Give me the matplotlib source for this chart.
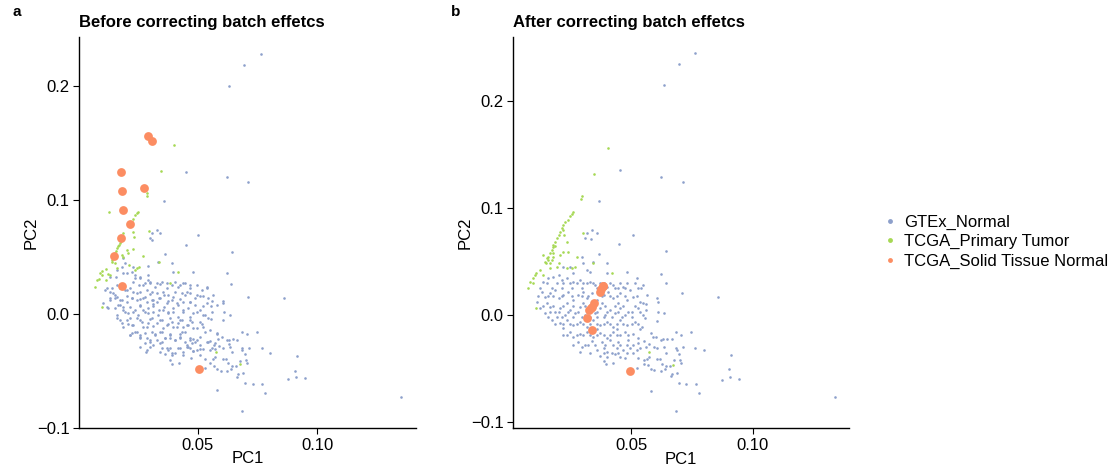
import numpy as np
import matplotlib
matplotlib.use("Agg")
import matplotlib.pyplot as plt
from matplotlib.lines import Line2D

plt.rcParams['font.family'] = ['Liberation Sans', 'DejaVu Sans']

# ---- panel a: before correction (PC1, PC2) ----
a_gtex = [
    (0.0763, 0.228), (0.0695, 0.2187), (0.063, 0.2), (0.045, 0.1243), (0.0621, 0.1199),
    (0.071, 0.1158), (0.0359, 0.0991),
    (0.0328, 0.0737), (0.0342, 0.0714), (0.0307, 0.0708), (0.0502, 0.0693), (0.0300, 0.0664),
    (0.0307, 0.0649), (0.0451, 0.0605), (0.0363, 0.0524), (0.0391, 0.0450), (0.0335, 0.0459),
    (0.0293, 0.0421), (0.0479, 0.0371), (0.0395, 0.0371), (0.0189, 0.0488), (0.0196, 0.0444),
    (0.0182, 0.0415), (0.0161, 0.0386), (0.0189, 0.0357), (0.0203, 0.0357), (0.0231, 0.0415),
    (0.0224, 0.0371), (0.0238, 0.0342), (0.0259, 0.0328), (0.0293, 0.0342), (0.0133, 0.0328),
    (0.0158, 0.0328),
    (0.0259, 0.0313), (0.0293, 0.0298), (0.0300, 0.0275), (0.0328, 0.0269), (0.0349, 0.0284),
    (0.0370, 0.0269), (0.0405, 0.0284), (0.0426, 0.0254), (0.0447, 0.0269), (0.0468, 0.0254),
    (0.0537, 0.0225), (0.0119, 0.0225), (0.0231, 0.0284), (0.0273, 0.0254),
    (0.0112, 0.0211), (0.0133, 0.0196), (0.0147, 0.0181), (0.0175, 0.0225), (0.0203, 0.0211),
    (0.0231, 0.0196), (0.0259, 0.0196), (0.0287, 0.0211), (0.0307, 0.0196), (0.0328, 0.0181),
    (0.0356, 0.0196), (0.0377, 0.0167), (0.0405, 0.0196), (0.0433, 0.0187), (0.0454, 0.0196),
    (0.0468, 0.0181), (0.0496, 0.0167), (0.0523, 0.0158), (0.0544, 0.0137), (0.0161, 0.0152),
    (0.0105, 0.0094), (0.0133, 0.0123), (0.0154, 0.0137), (0.0182, 0.0123), (0.0203, 0.0108),
    (0.0224, 0.0137), (0.0245, 0.0123), (0.0273, 0.0137), (0.0287, 0.0108), (0.0307, 0.0123),
    (0.0328, 0.0108), (0.0342, 0.0137), (0.0370, 0.0094), (0.0391, 0.0123), (0.0412, 0.0094),
    (0.0440, 0.0108), (0.0468, 0.0108), (0.0489, 0.0079), (0.0523, 0.0070), (0.0126, 0.0050),
    (0.0168, 0.0079), (0.0189, 0.0064), (0.0259, 0.0070), (0.0314, 0.0070),
    (0.0161, -0.0009), (0.0189, 0.0035), (0.0210, 0.0006), (0.0231, 0.0021), (0.0252, -0.0009),
    (0.0273, 0.0035), (0.0293, 0.0006), (0.0314, 0.0021), (0.0335, -0.0009), (0.0356, 0.0035),
    (0.0377, 0.0006), (0.0398, 0.0021), (0.0419, -0.0023), (0.0440, 0.0035), (0.0468, -0.0023),
    (0.0496, 0.0021), (0.0523, -0.0009), (0.0175, -0.0053), (0.0217, -0.0038), (0.0259, -0.0053),
    (0.0300, -0.0047), (0.0342, -0.0053), (0.0384, -0.0038), (0.0426, -0.0053), (0.0468, -0.0053),
    (0.0509, -0.0067), (0.0544, -0.0038),
    (0.0189, -0.0111), (0.0231, -0.0096), (0.0273, -0.0111), (0.0314, -0.0105), (0.0356, -0.0126),
    (0.0398, -0.0111), (0.0440, -0.0111), (0.0482, -0.0126), (0.0523, -0.0111), (0.0210, -0.0088),
    (0.0293, -0.0083), (0.0377, -0.0088), (0.0419, -0.0083), (0.0461, -0.0096),
    (0.0645, 0.0541), (0.0621, 0.0357), (0.0641, 0.026), (0.0563, 0.0167), (0.0712, 0.0152),
    (0.0862, 0.0143), (0.0604, 0.0114), (0.0607, 0.0099), (0.0556, 0.0073), (0.0558, 0.002),
    (0.061, 0.002), (0.0635, -0.0006), (0.0554, -0.0047), (0.0604, -0.0049),
    (0.0245, -0.0155), (0.0307, -0.0155), (0.0349, -0.0155), (0.0433, -0.0155), (0.0530, -0.0155),
    (0.0224, -0.0170), (0.0259, -0.0184), (0.0321, -0.0178), (0.0384, -0.0184), (0.0426, -0.0178),
    (0.0217, -0.0184), (0.0259, -0.0214), (0.0287, -0.0214), (0.0300, -0.0243), (0.0328, -0.0228),
    (0.0349, -0.0243), (0.0363, -0.0214), (0.0384, -0.0208), (0.0405, -0.0228), (0.0426, -0.0214),
    (0.0447, -0.0243), (0.0468, -0.0228), (0.0482, -0.0220), (0.0496, -0.0228), (0.0544, -0.0243),
    (0.0280, -0.0257), (0.0342, -0.0257), (0.0454, -0.0272), (0.0475, -0.0257), (0.0509, -0.0272),
    (0.0300, -0.0287), (0.0349, -0.0301), (0.0377, -0.0316), (0.0384, -0.0301), (0.0426, -0.0301),
    (0.0454, -0.0287), (0.0468, -0.0301), (0.0496, -0.0316), (0.0523, -0.0307), (0.0284, -0.0336),
    (0.0363, -0.0354), (0.0391, -0.0360), (0.0405, -0.0345), (0.0440, -0.0360), (0.0482, -0.0325),
    (0.0384, -0.0404), (0.0391, -0.0442), (0.0423, -0.0433), (0.0470, -0.0389), (0.0509, -0.0360),
    (0.0530, -0.0398), (0.0530, -0.0477),
    (0.0579, -0.0178), (0.0600, -0.0199), (0.0586, -0.0219), (0.0551, -0.0237), (0.0572, -0.0257),
    (0.0558, -0.0301), (0.0574, -0.0307), (0.0590, -0.0281), (0.0604, -0.0295), (0.0621, -0.0228),
    (0.0632, -0.0228), (0.0646, -0.0222), (0.0663, -0.0228), (0.0631, -0.0266), (0.0635, -0.0287),
    (0.0685, -0.0155), (0.0705, -0.0178), (0.0746, -0.0155), (0.0687, -0.0301), (0.0685, -0.0319),
    (0.0716, -0.0295), (0.0767, -0.0295), (0.0802, -0.0342), (0.0645, -0.0336), (0.0698, -0.0354),
    (0.0574, -0.0374), (0.0563, -0.0395), (0.0607, -0.0395), (0.0618, -0.0395), (0.0551, -0.0433),
    (0.0568, -0.0456), (0.0582, -0.0482), (0.0596, -0.0497), (0.0624, -0.0500), (0.0639, -0.0485),
    (0.0628, -0.0433), (0.0645, -0.0453), (0.0659, -0.0453), (0.0677, -0.0412), (0.0702, -0.0401),
    (0.0708, -0.0427), (0.0670, -0.0523), (0.0663, -0.0550), (0.0691, -0.0515), (0.0696, -0.0608),
    (0.0730, -0.0614), (0.0767, -0.0617), (0.0781, -0.0693), (0.0582, -0.0667), (0.0687, -0.0848),
    (0.0914, -0.0366), (0.0907, -0.0500), (0.0911, -0.0550), (0.0876, -0.0570), (0.0950, -0.0559),
    (0.1350, -0.0728),
    # dense core
    (0.0238, 0.0313), (0.0256, 0.0254), (0.0280, 0.0269), (0.0301, 0.0284), (0.0322, 0.0240),
    (0.0343, 0.0260), (0.0370, 0.0225), (0.0391, 0.0254), (0.0419, 0.0240), (0.0440, 0.0269),
    (0.0468, 0.0225), (0.0496, 0.0254), (0.0517, 0.0210), (0.0538, 0.0240), (0.0140, 0.0225),
    (0.0161, 0.0254), (0.0196, 0.0210), (0.0217, 0.0231),
    (0.0133, 0.0137), (0.0154, 0.0167), (0.0175, 0.0123), (0.0203, 0.0161), (0.0224, 0.0137),
    (0.0245, 0.0181), (0.0259, 0.0131), (0.0280, 0.0152), (0.0301, 0.0172), (0.0315, 0.0123),
    (0.0336, 0.0143), (0.0357, 0.0167), (0.0377, 0.0114), (0.0398, 0.0152), (0.0426, 0.0131),
    (0.0447, 0.0167), (0.0468, 0.0108), (0.0489, 0.0137), (0.0510, 0.0161), (0.0538, 0.0093),
    (0.0559, 0.0114), (0.0579, 0.0079),
    (0.0119, 0.0064), (0.0154, 0.0050), (0.0175, 0.0079), (0.0196, 0.0020), (0.0217, 0.0064),
    (0.0238, 0.0035), (0.0259, 0.0079), (0.0280, 0.0020), (0.0294, 0.0055), (0.0315, 0.0085),
    (0.0336, 0.0035), (0.0357, 0.0064), (0.0377, 0.0015), (0.0398, 0.0050), (0.0419, 0.0079),
    (0.0440, 0.0020), (0.0461, 0.0050), (0.0482, 0.0006), (0.0510, 0.0035), (0.0531, -0.0009),
    (0.0161, -0.0038), (0.0182, -0.0082), (0.0203, -0.0053), (0.0224, -0.0097), (0.0245, -0.0032),
    (0.0266, -0.0067), (0.0287, -0.0111), (0.0308, -0.0038), (0.0329, -0.0082), (0.0350, -0.0053),
    (0.0370, -0.0097), (0.0391, -0.0067), (0.0412, -0.0111), (0.0433, -0.0053), (0.0454, -0.0097),
    (0.0475, -0.0067), (0.0496, -0.0126), (0.0517, -0.0091), (0.0552, -0.0140), (0.0579, -0.0170),
    (0.0217, -0.0184), (0.0238, -0.0155), (0.0259, -0.0199), (0.0280, -0.0170), (0.0301, -0.0228),
    (0.0322, -0.0184), (0.0343, -0.0155), (0.0363, -0.0214), (0.0384, -0.0178), (0.0405, -0.0228),
    (0.0426, -0.0199), (0.0447, -0.0155), (0.0468, -0.0214), (0.0489, -0.0243), (0.0510, -0.0199),
    (0.0538, -0.0243), (0.0566, -0.0272),
    (0.0259, -0.0287), (0.0287, -0.0316), (0.0315, -0.0272), (0.0343, -0.0331), (0.0370, -0.0295),
    (0.0391, -0.0345), (0.0419, -0.0301), (0.0440, -0.0336), (0.0461, -0.0287), (0.0482, -0.0325),
    (0.0510, -0.0307), (0.0552, -0.0316),
]
a_tumor = [
    (0.0401, 0.1482), (0.0345, 0.1257), (0.0287, 0.1058), (0.0288, 0.1035), (0.0128, 0.0895),
    (0.0252, 0.0895), (0.0238, 0.0868), (0.0245, 0.0883), (0.0231, 0.0833), (0.0224, 0.0810),
    (0.0298, 0.0728), (0.0231, 0.0716), (0.0232, 0.0673), (0.0189, 0.0708), (0.0186, 0.0678),
    (0.0182, 0.0655), (0.0178, 0.0643), (0.0175, 0.0620), (0.0170, 0.0605), (0.0168, 0.0599),
    (0.0164, 0.0576), (0.0158, 0.0556), (0.0156, 0.0538), (0.0147, 0.0518), (0.0144, 0.0497),
    (0.0142, 0.0474), (0.0140, 0.0456), (0.0154, 0.0444), (0.0203, 0.0561), (0.0210, 0.0532),
    (0.0231, 0.0570), (0.0273, 0.0509), (0.0340, 0.0453), (0.0256, 0.0415), (0.0245, 0.0406),
    (0.0238, 0.0386), (0.0214, 0.0430), (0.0182, 0.0518), (0.0186, 0.0503), (0.0164, 0.0401),
    (0.0117, 0.0398), (0.0100, 0.0380), (0.0092, 0.0357), (0.0101, 0.0342), (0.0077, 0.0298),
    (0.0087, 0.0310), (0.0069, 0.0234), (0.0100, 0.0064), (0.0133, 0.0339), (0.0126, 0.0351),
    (0.0117, 0.0298), (0.0419, 0.0371), (0.0384, 0.0275), (0.0575, -0.0330), (0.0677, -0.0441),
]
a_normal = [
    (0.0291, 0.1561), (0.0307, 0.152), (0.0178, 0.1243), (0.0185, 0.1082), (0.0188, 0.0912),
    (0.0215, 0.0789), (0.018, 0.067), (0.015, 0.0512), (0.0277, 0.1105), (0.0183, 0.0246),
    (0.0507, -0.048),
]

# ---- panel b: after correction ----
b_gtex = [
    (0.0764, 0.2444), (0.0697, 0.2341), (0.0634, 0.2144), (0.0455, 0.135), (0.0625, 0.1284),
    (0.0714, 0.1241), (0.0367, 0.1059),
    (0.0318, 0.0767), (0.0339, 0.0792), (0.0362, 0.0761), (0.0311, 0.0714), (0.0334, 0.0705),
    (0.0510, 0.0746), (0.0452, 0.0661), (0.0369, 0.0565), (0.0400, 0.0487), (0.0345, 0.0496),
    (0.0297, 0.0537), (0.0304, 0.0480), (0.0250, 0.0449), (0.0219, 0.0449), (0.0263, 0.0387),
    (0.0318, 0.0418), (0.0332, 0.0402), (0.0403, 0.0393), (0.0482, 0.0402), (0.0524, 0.0340),
    (0.0140, 0.0309), (0.0160, 0.0340), (0.0181, 0.0356), (0.0202, 0.0371), (0.0215, 0.0324),
    (0.0236, 0.0340), (0.0263, 0.0309), (0.0291, 0.0324), (0.0304, 0.0293), (0.0332, 0.0309),
    (0.0352, 0.0278), (0.0373, 0.0293), (0.0400, 0.0262), (0.0428, 0.0278), (0.0448, 0.0246),
    (0.0469, 0.0262), (0.0496, 0.0231), (0.0530, 0.0246), (0.0551, 0.0278),
    (0.0113, 0.0122), (0.0133, 0.0215), (0.0147, 0.0168), (0.0167, 0.0200), (0.0188, 0.0231),
    (0.0202, 0.0153), (0.0222, 0.0184), (0.0243, 0.0215), (0.0263, 0.0137), (0.0284, 0.0184),
    (0.0304, 0.0215), (0.0318, 0.0153), (0.0339, 0.0200), (0.0359, 0.0137), (0.0387, 0.0184),
    (0.0407, 0.0215), (0.0428, 0.0153), (0.0455, 0.0200), (0.0482, 0.0137), (0.0510, 0.0168),
    (0.0537, 0.0122), (0.0154, 0.0106), (0.0236, 0.0106), (0.0304, 0.0106), (0.0380, 0.0106),
    (0.0448, 0.0112),
    (0.0126, 0.0059), (0.0147, 0.0012), (0.0167, 0.0075), (0.0188, 0.0028), (0.0208, 0.0059),
    (0.0229, -0.0003), (0.0250, 0.0044), (0.0270, 0.0012), (0.0291, 0.0075), (0.0311, -0.0003),
    (0.0332, 0.0044), (0.0352, 0.0012), (0.0373, 0.0059), (0.0393, -0.0003), (0.0414, 0.0044),
    (0.0434, 0.0012), (0.0455, 0.0059), (0.0476, -0.0003), (0.0503, 0.0028), (0.0530, 0.0059),
    (0.0551, -0.0003),
    (0.0174, -0.0050), (0.0208, -0.0081), (0.0236, -0.0050), (0.0263, -0.0097), (0.0291, -0.0066),
    (0.0318, -0.0112), (0.0345, -0.0050), (0.0373, -0.0097), (0.0400, -0.0066), (0.0428, -0.0112),
    (0.0455, -0.0050), (0.0482, -0.0097), (0.0517, -0.0066), (0.0544, -0.0112), (0.0222, -0.0128),
    (0.0359, -0.0137), (0.0441, -0.0137),
    (0.0644, 0.0599), (0.0623, 0.0377), (0.0643, 0.0293), (0.0541, 0.0246), (0.0564, 0.0184),
    (0.0711, 0.0200), (0.0859, 0.0162), (0.0608, 0.0159), (0.0612, 0.0115), (0.0548, 0.0112),
    (0.0560, 0.0100), (0.0560, 0.0040), (0.0612, 0.0028), (0.0636, 0.0019), (0.0558, -0.0034),
    (0.0608, -0.0056),
    (0.0222, -0.0190), (0.0250, -0.0159), (0.0263, -0.0206), (0.0291, -0.0184), (0.0318, -0.0159),
    (0.0345, -0.0206), (0.0373, -0.0175), (0.0400, -0.0215), (0.0428, -0.0165), (0.0455, -0.0190),
    (0.0476, -0.0159), (0.0510, -0.0184), (0.0530, -0.0215), (0.0284, -0.0252), (0.0339, -0.0246),
    (0.0380, -0.0252), (0.0414, -0.0237), (0.0448, -0.0259), (0.0489, -0.0237), (0.0530, -0.0268),
    (0.0297, -0.0299), (0.0359, -0.0331), (0.0387, -0.0315), (0.0400, -0.0346), (0.0441, -0.0315),
    (0.0469, -0.0331), (0.0496, -0.0315), (0.0524, -0.0331), (0.0291, -0.0352), (0.0373, -0.0384),
    (0.0400, -0.0393), (0.0434, -0.0371), (0.0455, -0.0393), (0.0476, -0.0409), (0.0387, -0.0434),
    (0.0397, -0.0465), (0.0428, -0.0455), (0.0530, -0.0409), (0.0554, -0.0424), (0.0524, -0.0502),
    (0.0537, -0.0134), (0.0582, -0.0175), (0.0589, -0.0212), (0.0601, -0.0206), (0.0553, -0.0246),
    (0.0574, -0.0274), (0.0560, -0.0306), (0.0595, -0.0299), (0.0605, -0.0309), (0.0623, -0.0237),
    (0.0633, -0.0228), (0.0647, -0.0228), (0.0667, -0.0228), (0.0636, -0.0299), (0.0685, -0.0159),
    (0.0705, -0.0190), (0.0745, -0.0159), (0.0684, -0.0315), (0.0688, -0.0334), (0.0715, -0.0306),
    (0.0764, -0.0312), (0.0799, -0.0331), (0.0644, -0.0359), (0.0699, -0.0371), (0.0537, -0.0315),
    (0.0575, -0.0393), (0.0564, -0.0415), (0.0607, -0.0415), (0.0619, -0.0415), (0.0553, -0.0462),
    (0.0571, -0.0471), (0.0584, -0.0505), (0.0596, -0.0518), (0.0623, -0.0524), (0.0640, -0.0508),
    (0.0627, -0.0458), (0.0644, -0.0483), (0.0660, -0.0483), (0.0677, -0.0427), (0.0701, -0.0421),
    (0.0707, -0.0449), (0.0670, -0.0552), (0.0664, -0.0574), (0.0690, -0.0549), (0.0696, -0.0643),
    (0.0727, -0.0649), (0.0766, -0.0652), (0.0779, -0.0730), (0.0582, -0.0711), (0.0685, -0.0898),
    (0.0911, -0.0377), (0.0903, -0.0511), (0.0908, -0.0583), (0.0873, -0.0608), (0.0945, -0.0599),
    (0.1338, -0.0774),
    # dense core
    (0.0154, 0.0299), (0.0195, 0.0299), (0.0222, 0.0299), (0.0250, 0.0299), (0.0277, 0.0299),
    (0.0318, 0.0299), (0.0345, 0.0299), (0.0387, 0.0299), (0.0414, 0.0299), (0.0455, 0.0299),
    (0.0482, 0.0299), (0.0517, 0.0299),
    (0.0126, 0.0246), (0.0174, 0.0246), (0.0215, 0.0246), (0.0256, 0.0246), (0.0297, 0.0246),
    (0.0359, 0.0246), (0.0393, 0.0246), (0.0434, 0.0246), (0.0476, 0.0246),
    (0.0119, 0.0175), (0.0160, 0.0175), (0.0181, 0.0175), (0.0215, 0.0175), (0.0256, 0.0175),
    (0.0297, 0.0175), (0.0325, 0.0175), (0.0380, 0.0175), (0.0414, 0.0175), (0.0441, 0.0175),
    (0.0476, 0.0175), (0.0524, 0.0175),
    (0.0140, 0.0081), (0.0181, 0.0081), (0.0222, 0.0081), (0.0263, 0.0081), (0.0311, 0.0081),
    (0.0352, 0.0081), (0.0393, 0.0081), (0.0434, 0.0081), (0.0469, 0.0081), (0.0517, 0.0081),
    (0.0167, 0.0028), (0.0202, 0.0028), (0.0243, 0.0028), (0.0284, 0.0028), (0.0318, 0.0028),
    (0.0359, 0.0028), (0.0400, 0.0028), (0.0448, 0.0028), (0.0489, 0.0028), (0.0537, 0.0028),
    (0.0160, -0.0025), (0.0195, -0.0025), (0.0215, -0.0025), (0.0263, -0.0025), (0.0297, -0.0025),
    (0.0332, -0.0025), (0.0359, -0.0025), (0.0387, -0.0025), (0.0421, -0.0025), (0.0462, -0.0025),
    (0.0503, -0.0025),
    (0.0188, -0.0087), (0.0222, -0.0087), (0.0250, -0.0087), (0.0277, -0.0087), (0.0304, -0.0087),
    (0.0332, -0.0087), (0.0359, -0.0087), (0.0387, -0.0087), (0.0414, -0.0087), (0.0441, -0.0087),
    (0.0469, -0.0087), (0.0503, -0.0087), (0.0530, -0.0087),
    (0.0236, -0.0190), (0.0277, -0.0190), (0.0304, -0.0190), (0.0332, -0.0190), (0.0359, -0.0190),
    (0.0387, -0.0190), (0.0414, -0.0190), (0.0441, -0.0190), (0.0489, -0.0190),
    (0.0263, -0.0284), (0.0311, -0.0284), (0.0325, -0.0284), (0.0352, -0.0284), (0.0393, -0.0284),
    (0.0428, -0.0284), (0.0455, -0.0284), (0.0482, -0.0284), (0.0510, -0.0284),
    (0.0332, -0.0362), (0.0387, -0.0362), (0.0421, -0.0362), (0.0448, -0.0362), (0.0482, -0.0362),
    (0.0510, -0.0362),
]
b_tumor = [
    (0.0404, 0.1556), (0.0348, 0.1316), (0.0297, 0.1106), (0.0293, 0.1081), (0.0263, 0.0959),
    (0.0256, 0.0944), (0.0249, 0.0919), (0.0242, 0.0888),
    (0.0229, 0.0870), (0.0222, 0.0839), (0.0215, 0.0808), (0.0219, 0.0792), (0.0208, 0.0777),
    (0.0225, 0.0746), (0.0202, 0.0746), (0.0195, 0.0714), (0.0188, 0.0683), (0.0181, 0.0652),
    (0.0178, 0.0636), (0.0188, 0.0643), (0.0236, 0.0683), (0.0174, 0.0605), (0.0181, 0.0574),
    (0.0167, 0.0574), (0.0160, 0.0543), (0.0154, 0.0527), (0.0147, 0.0496), (0.0151, 0.0480),
    (0.0160, 0.0511), (0.0174, 0.0511), (0.0181, 0.0543), (0.0165, 0.0487), (0.0140, 0.0558),
    (0.0208, 0.0558), (0.0222, 0.0589), (0.0243, 0.0589), (0.0206, 0.0480), (0.0277, 0.0537),
    (0.0302, 0.0767), (0.0126, 0.0418), (0.0110, 0.0387), (0.0137, 0.0371), (0.0106, 0.0371),
    (0.0167, 0.0434), (0.0195, 0.0449), (0.0236, 0.0434), (0.0256, 0.0434), (0.0270, 0.0449),
    (0.0343, 0.0480), (0.0421, 0.0387), (0.0099, 0.0340), (0.0085, 0.0309), (0.0078, 0.0253),
    (0.0096, 0.0293), (0.0110, 0.0059), (0.0575, -0.0352), (0.0674, -0.0474),
]
b_normal = [
    (0.0384, 0.0269), (0.0386, 0.0272), (0.0377, 0.0244), (0.0371, 0.0216), (0.0348, 0.0106),
    (0.0341, 0.0075), (0.0334, 0.0059), (0.0329, 0.0044), (0.0318, -0.0034), (0.0338, -0.0144),
    (0.0496, -0.0528),
]

groups = ['GTEx_Normal', 'TCGA_Primary Tumor', 'TCGA_Solid Tissue Normal']
colors = ['#8DA0CB', '#A6D854', '#FC8D62']
sizes = [3.5, 3.5, 40]


def draw_panel(ax, series, title, xlim, ylim):
    for pts, col, s in zip(series, colors, sizes):
        pts = np.array(pts)
        ax.scatter(pts[:, 0], pts[:, 1], s=s, color=col, linewidths=0)
    ax.set_xlim(*xlim)
    ax.set_ylim(*ylim)
    ax.set_xticks([0.05, 0.10])
    ax.set_xticklabels(['0.05', '0.10'])
    ax.set_yticks([-0.1, 0.0, 0.1, 0.2])
    ax.set_yticklabels(['\u22120.1', '0.0', '0.1', '0.2'])
    for side in ['top', 'right']:
        ax.spines[side].set_visible(False)
    for side in ['left', 'bottom']:
        ax.spines[side].set_linewidth(1.0)
    ax.tick_params(length=4, width=0.8, labelsize=12, pad=3, colors='black')
    ax.set_xlabel('PC1', fontsize=12, labelpad=-1)
    ax.set_ylabel('PC2', fontsize=12, labelpad=-1)
    ax.set_title(title, fontsize=12, fontweight='bold', loc='left', pad=7)


fig = plt.figure(figsize=(11.16, 4.71), dpi=100)
ax1 = fig.add_axes([0.0711, 0.0913, 0.3017, 0.8308])
ax2 = fig.add_axes([0.4599, 0.0907, 0.3011, 0.8314])

draw_panel(ax1, [a_gtex, a_tumor, a_normal], 'Before correcting batch effetcs',
           (0.0005, 0.1413), (-0.1, 0.2432))
draw_panel(ax2, [b_gtex, b_tumor, b_normal], 'After correcting batch effetcs',
           (0.0016, 0.1397), (-0.1063, 0.2600))

fig.text(0.011, 0.975, 'a', fontsize=11, fontweight='bold', va='center')
fig.text(0.404, 0.975, 'b', fontsize=11, fontweight='bold', va='center')

handles = [Line2D([], [], marker='o', linestyle='', markersize=3.5,
                  markerfacecolor=c, markeredgewidth=0) for c in colors]
fig.legend(handles, groups, loc='center left', bbox_to_anchor=(0.777, 0.487),
           frameon=False, fontsize=12, handletextpad=0.3, labelspacing=0.25,
           handlelength=1.0)

fig.savefig('out.png', dpi=100)
